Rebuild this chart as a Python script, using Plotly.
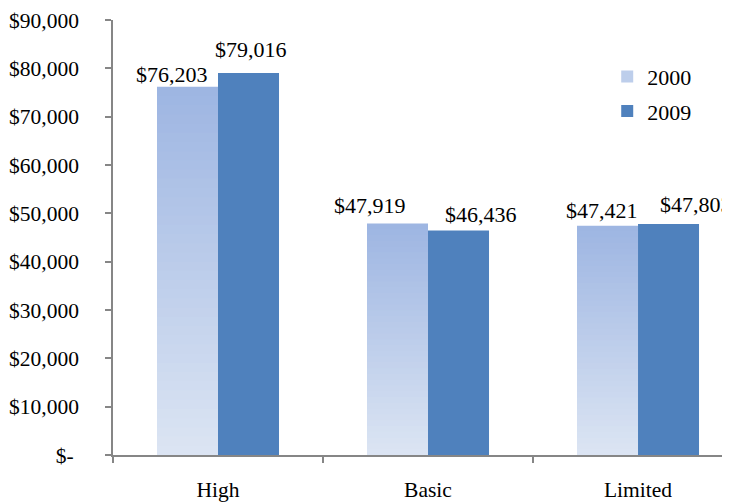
import plotly.graph_objects as go

categories = ["High", "Basic", "Limited"]
values_2000 = [76203, 47919, 47421]
values_2009 = [79016, 46436, 47803]
series_names = ["2000", "2009"]
y_tick_values = [0, 10000, 20000, 30000, 40000, 50000, 60000, 70000, 80000, 90000]
y_tick_labels = ["$-\u00a0", "$10,000", "$20,000", "$30,000", "$40,000",
                 "$50,000", "$60,000", "$70,000", "$80,000", "$90,000"]

FONT = "Liberation Serif"
AXIS_GREY = "#868686"
SOLID_BLUE = "#4F81BD"
GRAD_TOP = (157, 181, 226)
GRAD_BOTTOM = (220, 229, 243)
N_SLICES = 40

# label placement tweaks (pixels) to mimic the original layout
shift_2000 = [-16, -28, -6]
shift_2009 = [2, 22, 27]
gap_2000 = [4, 9, 7]
gap_2009 = [15, 8, 11]

fig = go.Figure()

def mix(t):
    r = [round(GRAD_BOTTOM[k] + (GRAD_TOP[k] - GRAD_BOTTOM[k]) * t) for k in range(3)]
    return f"rgb({r[0]},{r[1]},{r[2]})"

# 2000 series: vertical gradient made from overlaid bars of decreasing height
for i in range(N_SLICES):
    frac = (N_SLICES - i) / N_SLICES
    fig.add_trace(go.Bar(
        x=categories,
        y=[v * frac for v in values_2000],
        offsetgroup="2000",
        legendgroup="2000",
        name=series_names[0],
        showlegend=(i == N_SLICES // 2),
        marker=dict(color=mix(frac - 0.5 / N_SLICES), line=dict(width=0)),
        hoverinfo="skip",
    ))

fig.add_trace(go.Bar(
    x=categories,
    y=values_2009,
    offsetgroup="2009",
    legendgroup="2009",
    name=series_names[1],
    marker=dict(color=SOLID_BLUE, line=dict(width=0)),
))

bar_px = 61
annotations = []
for i, c in enumerate(categories):
    annotations.append(dict(
        x=c, y=values_2000[i], xref="x", yref="y",
        text=f"${values_2000[i]:,}", showarrow=False,
        xanchor="center", yanchor="bottom",
        xshift=-bar_px / 2 + shift_2000[i], yshift=gap_2000[i] - 6,
        font=dict(family=FONT, size=22, color="black"),
    ))
    annotations.append(dict(
        x=c, y=values_2009[i], xref="x", yref="y",
        text=f"${values_2009[i]:,}", showarrow=False,
        xanchor="center", yanchor="bottom",
        xshift=bar_px / 2 + shift_2009[i], yshift=gap_2009[i] - 6,
        font=dict(family=FONT, size=22, color="black"),
    ))

# the page body has an 8px margin, so the figure is sized to fit inside it
fig.update_layout(
    width=722, height=496,
    margin=dict(l=105, r=0, t=12, b=49, autoexpand=False),
    paper_bgcolor="white", plot_bgcolor="white",
    barmode="group", bargap=0.419, bargroupgap=0,
    font=dict(family=FONT, size=22, color="black"),
    annotations=annotations,
    showlegend=True,
    legend=dict(
        x=0.801, y=0.918, xanchor="left", yanchor="top",
        traceorder="grouped", tracegroupgap=3,
        font=dict(family=FONT, size=22, color="black"),
        bgcolor="rgba(0,0,0,0)",
    ),
    xaxis=dict(
        type="category", range=[-0.5, 2.438], automargin=False,
        showline=True, linecolor=AXIS_GREY, linewidth=1.5,
        ticks="outside", ticklen=6, tickcolor=AXIS_GREY, tickwidth=1.5,
        tickson="boundaries", showgrid=False, zeroline=False,
        ticklabelstandoff=14,
        tickfont=dict(family=FONT, size=21.5, color="black"),
    ),
    yaxis=dict(
        range=[0, 90000], tickvals=y_tick_values, ticktext=y_tick_labels,
        automargin=False,
        showline=True, linecolor=AXIS_GREY, linewidth=1.5,
        ticks="outside", ticklen=6, tickcolor=AXIS_GREY, tickwidth=1.5,
        showgrid=False, zeroline=False,
        ticklabelstandoff=22,
        tickfont=dict(family=FONT, size=21.5, color="black"),
    ),
)

fig.write_html("out.html")
